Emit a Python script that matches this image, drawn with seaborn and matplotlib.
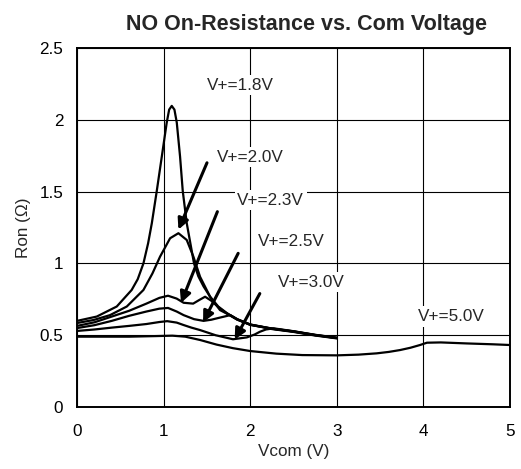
import numpy as np
import pandas as pd
import seaborn as sns
import matplotlib.pyplot as plt

# curves (Vcom in V, Ron in ohm)
x_18 = [0, 0.227, 0.458, 0.63, 0.70, 0.766, 0.82, 0.863, 0.92, 0.978, 1.035, 1.063,
        1.093, 1.124, 1.151, 1.189, 1.22, 1.266, 1.35, 1.40, 1.46, 1.536, 1.63, 1.73,
        1.85, 2.0, 2.25, 2.5, 2.75, 3.0]
y_18 = [0.60, 0.63, 0.70, 0.815, 0.89, 1.0, 1.14, 1.28, 1.504, 1.743, 1.98, 2.07,
        2.096, 2.07, 1.98, 1.743, 1.504, 1.28, 1.0, 0.91, 0.84, 0.768, 0.70, 0.654,
        0.61, 0.575, 0.545, 0.525, 0.50, 0.48]

x_20 = [0, 0.19, 0.38, 0.574, 0.766, 0.87, 0.958, 1.074, 1.17, 1.266, 1.343, 1.42, 1.536, 1.65,
        1.73, 1.85, 2.0, 2.25, 2.5, 2.75, 3.0]
y_20 = [0.585, 0.606, 0.64, 0.70, 0.815, 0.93, 1.047, 1.175, 1.21, 1.163, 1.047, 0.907, 0.768, 0.675,
        0.65, 0.608, 0.573, 0.543, 0.523, 0.498, 0.478]

x_23 = [0, 0.2, 0.4, 0.6, 0.8, 0.95, 1.05, 1.15, 1.23, 1.34, 1.41, 1.478, 1.55, 1.65, 1.73,
        1.85, 2.0, 2.25, 2.5, 2.75, 3.0]
y_23 = [0.565, 0.59, 0.63, 0.67, 0.72, 0.76, 0.775, 0.755, 0.726, 0.72, 0.745, 0.768, 0.74, 0.685, 0.652,
        0.61, 0.572, 0.546, 0.526, 0.501, 0.481]

x_25 = [0, 0.2, 0.4, 0.6, 0.8, 0.95, 1.05, 1.15, 1.23, 1.35, 1.46, 1.55, 1.61, 1.70, 1.77,
        1.85, 2.0, 2.25, 2.5, 2.75, 3.0]
y_25 = [0.55, 0.57, 0.60, 0.635, 0.665, 0.685, 0.69, 0.665, 0.64, 0.612, 0.60, 0.608, 0.617, 0.63, 0.64,
        0.612, 0.574, 0.547, 0.527, 0.502, 0.482]

x_30 = [0, 0.2, 0.4, 0.6, 0.8, 0.95, 1.04, 1.15, 1.23, 1.32, 1.42, 1.6, 1.8, 1.96, 2.05, 2.11,
        2.18, 2.27, 2.5, 2.75, 3.0]
y_30 = [0.53, 0.54, 0.553, 0.565, 0.578, 0.592, 0.598, 0.588, 0.571, 0.553, 0.536, 0.50, 0.472, 0.485, 0.505, 0.524,
        0.54, 0.548, 0.528, 0.503, 0.483]

x_50 = [0, 0.3, 0.6, 0.9, 1.1, 1.25, 1.42, 1.61, 1.8, 2.0, 2.3, 2.6, 3.0, 3.25, 3.46, 3.6, 3.73,
        3.85, 3.96, 4.04, 4.2, 4.5, 4.8, 5.0]
y_50 = [0.49, 0.49, 0.49, 0.494, 0.497, 0.49, 0.467, 0.435, 0.41, 0.39, 0.372, 0.362, 0.36, 0.365, 0.374, 0.384, 0.397,
        0.413, 0.432, 0.448, 0.45, 0.443, 0.437, 0.432]

curve_names = ['V+=1.8V', 'V+=2.0V', 'V+=2.3V', 'V+=2.5V', 'V+=3.0V', 'V+=5.0V']
curve_x = [x_18, x_20, x_23, x_25, x_30, x_50]
curve_y = [y_18, y_20, y_23, y_25, y_30, y_50]

# label text spots and arrows (tail, head) in data units
label_xy = [(1.50, 2.24), (1.62, 1.74), (1.85, 1.44), (2.09, 1.15), (2.32, 0.87), (3.94, 0.63)]
arrows = [((1.50, 1.70), (1.17, 1.235)),
          ((1.62, 1.36), (1.20, 0.725)),
          ((1.86, 1.07), (1.455, 0.59)),
          ((2.11, 0.79), (1.82, 0.47))]

x_ticks = [0, 1, 2, 3, 4, 5]
y_ticks = [0, 0.5, 1, 1.5, 2, 2.5]
y_tick_labels = ['0', '0.5', '1', '1.5', '2', '2.5']

df = pd.concat([pd.DataFrame({'Vcom': xs, 'Ron': ys, 'curve': name})
                for name, xs, ys in zip(curve_names, curve_x, curve_y)], ignore_index=True)

sns.set_style('white')
plt.rcParams['font.family'] = ['Liberation Sans', 'DejaVu Sans']

fig = plt.figure(figsize=(5.21, 4.69), dpi=100)
ax = fig.add_axes([0.148, 0.132, 0.831, 0.766])

sns.lineplot(data=df, x='Vcom', y='Ron', hue='curve', units='curve', estimator=None,
             palette=['black'] * 6, legend=False, linewidth=1.6, sort=False, ax=ax, zorder=3)

ax.set_xlim(0, 5)
ax.set_ylim(0, 2.5)
ax.set_xticks(x_ticks)
ax.set_xticklabels([str(t) for t in x_ticks])
ax.set_yticks(y_ticks)
ax.set_yticklabels(y_tick_labels)
ax.tick_params(length=0, labelsize=12.3, colors='black')
ax.tick_params(axis='x', pad=12)
ax.tick_params(axis='y', pad=10)
ax.grid(True, color='black', linewidth=0.8)
ax.set_axisbelow(True)
for s in ax.spines.values():
    s.set_color('black')
    s.set_linewidth(1.4)

for name, (tx, ty) in zip(curve_names, label_xy):
    ax.text(tx, ty, name, fontsize=12.3, ha='left', va='center', zorder=4,
            bbox=dict(facecolor='white', edgecolor='none', pad=2))

for (tail, head) in arrows:
    ax.annotate('', xy=head, xytext=tail, zorder=5,
                arrowprops=dict(arrowstyle='-|>', color='black', lw=2.2,
                                mutation_scale=16, shrinkA=0, shrinkB=0))

ax.set_xlabel('Vcom (V)', fontsize=12.3, labelpad=4)
ax.set_ylabel('Ron (\u03a9)', fontsize=12.3, labelpad=6)
ax.set_title('NO On-Resistance vs. Com Voltage', fontsize=15.5, fontweight='bold', x=0.53, pad=13)

fig.savefig('out.png', dpi=100)
